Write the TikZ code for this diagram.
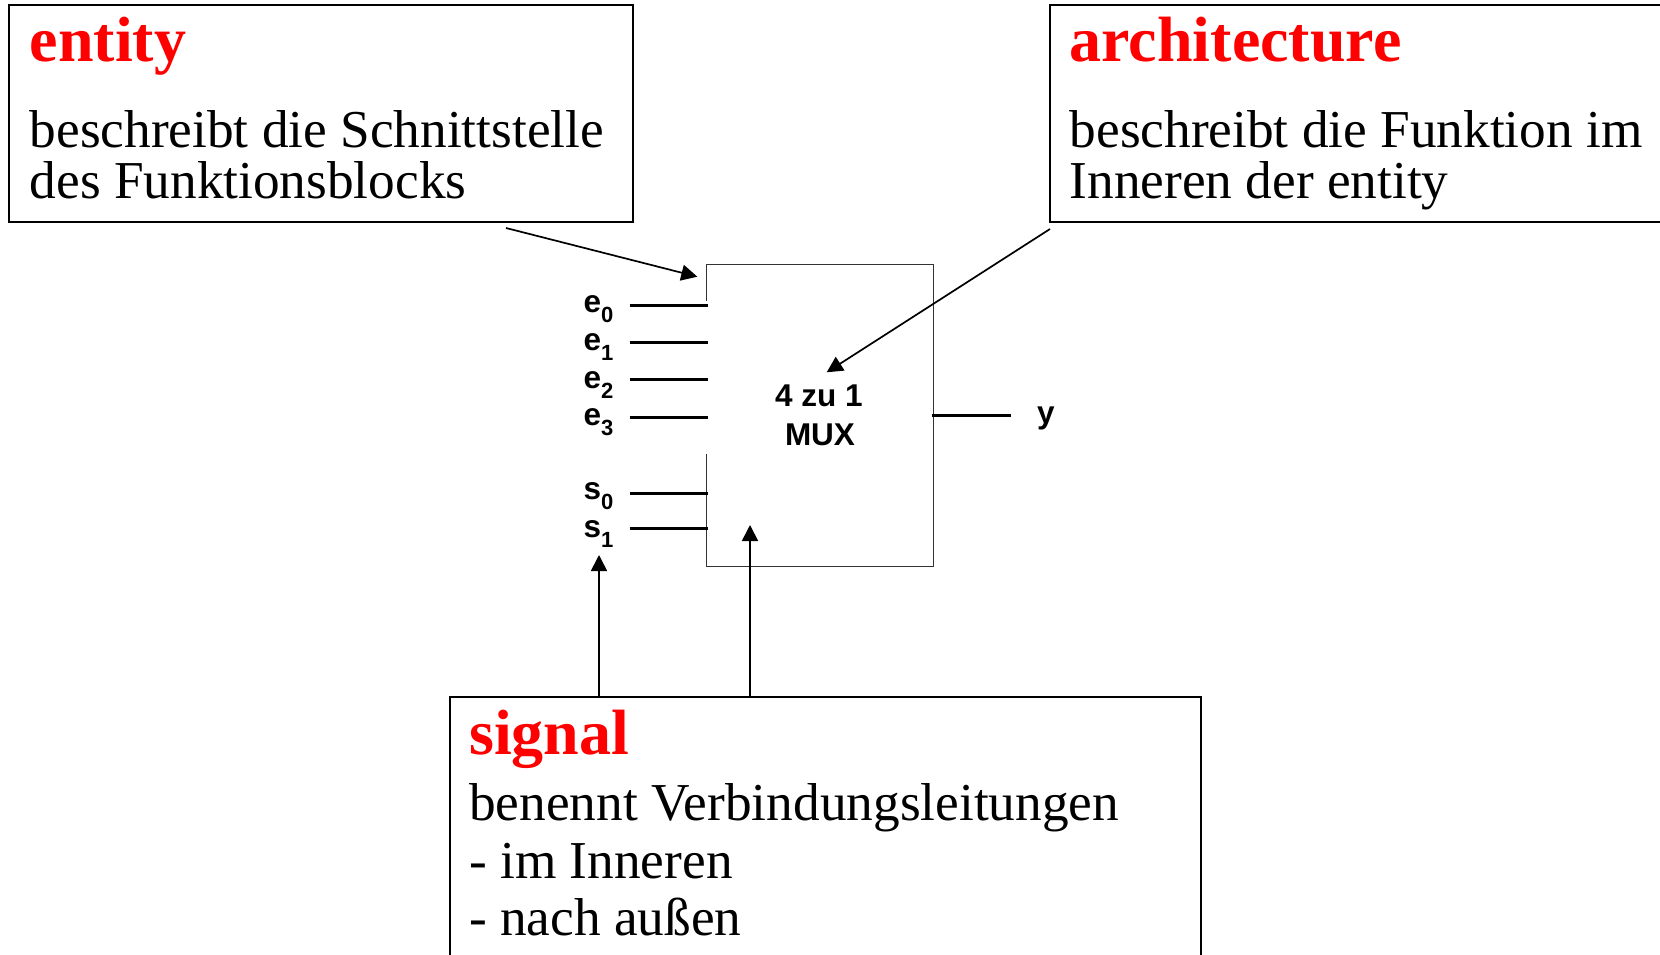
\documentclass[tikz,border=0pt]{standalone}
\usepackage{fontspec}
\setmainfont{Liberation Serif}
\newfontfamily\lblfont{Liberation Sans}[BoldFont={Liberation Sans Bold}]
\usetikzlibrary{arrows.meta}
\definecolor{titlered}{RGB}{255,0,0}
\newcommand{\sig}[2]{#1\raisebox{-10pt}{\fontsize{22}{22}\selectfont #2}}
\tikzset{
  callout/.style={draw=black,line width=2pt,fill=white,anchor=north west,inner sep=0pt},
  titletext/.style={anchor=base west,inner sep=0pt,text=titlered,font=\fontsize{64}{64}\selectfont\bfseries},
  bodytext/.style={anchor=base west,inner sep=0pt,font=\fontsize{53.3}{53.3}\selectfont},
  pinlabel/.style={anchor=base west,inner sep=0pt,font=\lblfont\fontsize{31.5}{31.5}\selectfont\bfseries},
  muxtext/.style={anchor=base,inner sep=0pt,font=\lblfont\fontsize{31.5}{31.5}\selectfont\bfseries},
  muxbox/.style={draw=black!80,line width=1.1pt,fill=white,anchor=north west,inner sep=0pt,minimum width=227pt,minimum height=302pt},
  wire/.style={line width=2.6pt,draw=black},
  pointer/.style={line width=1.7pt,draw=black,-{Triangle[length=16pt,width=16pt]}}
}
\begin{document}
\begin{tikzpicture}[x=1pt,y=-1pt]
\useasboundingbox (0,0) rectangle (1660,955);
\clip (0,0) rectangle (1660,955);
\fill[white] (0,0) rectangle (1660,955);
% callout boxes
\node[callout,minimum width=624pt,minimum height=217pt] (entitybox) at (8.3,4.2) {};
\node[callout,minimum width=640pt,minimum height=217pt] (archbox) at (1048.7,4.2) {};
\node[callout,minimum width=751.5pt,minimum height=300pt] (signalbox) at (448.8,696.2) {};
% callout text
\node[titletext] (t1) at (29.5,62) {entity};
\node[bodytext] (b1a) at (29.5,147.5) {beschreibt die Schnittstelle};
\node[bodytext] (b1b) at (29.5,198.5) {des Funktionsblocks};
\node[titletext] (t2) at (1069.5,62) {architecture};
\node[bodytext] (b2a) at (1069.5,147.5) {beschreibt die Funktion im};
\node[bodytext] (b2b) at (1069.5,198.5) {Inneren der entity};
\node[titletext] (t3) at (469,754) {signal};
\node[bodytext] (b3a) at (469,820) {benennt Verbindungsleitungen};
\node[bodytext] (b3b) at (469,878) {- im Inneren};
\node[bodytext] (b3c) at (469,935.5) {- nach außen};
% multiplexer
\node[muxbox] (mux) at (706.2,264.2) {};
\draw[white,line width=1.6pt] (706.2,301) -- (706.2,454);
\node[muxtext] (m1) at (819,406) {4 zu 1};
\node[muxtext] (m2) at (820,445) {MUX};
% pins
\node[pinlabel] (e0) at (583.5,312) {\sig{e}{0}};
\node[pinlabel] (e1) at (583.5,350) {\sig{e}{1}};
\node[pinlabel] (e2) at (583.5,388) {\sig{e}{2}};
\node[pinlabel] (e3) at (583.5,425) {\sig{e}{3}};
\node[pinlabel] (s0) at (583.5,499) {\sig{s}{0}};
\node[pinlabel] (s1) at (583.5,537) {\sig{s}{1}};
\node[pinlabel] (y) at (1037,423.5) {y};
\coordinate (e0a) at (629.5,305.5); \coordinate (e0b) at (708,305.5);
\coordinate (e1a) at (629.5,342.5); \coordinate (e1b) at (708,342.5);
\coordinate (e2a) at (629.5,379.5); \coordinate (e2b) at (708,379.5);
\coordinate (e3a) at (629.5,417.5); \coordinate (e3b) at (708,417.5);
\coordinate (s0a) at (629.5,493.5); \coordinate (s0b) at (708,493.5);
\coordinate (s1a) at (629.5,528.5); \coordinate (s1b) at (708,528.5);
\coordinate (ya) at (932,415.5);    \coordinate (yb) at (1010.7,415.5);
\draw[wire] (e0a) -- (e0b);
\draw[wire] (e1a) -- (e1b);
\draw[wire] (e2a) -- (e2b);
\draw[wire] (e3a) -- (e3b);
\draw[wire] (s0a) -- (s0b);
\draw[wire] (s1a) -- (s1b);
\draw[wire] (ya) -- (yb);
% pointers
\coordinate (p1a) at (506,228);  \coordinate (p1b) at (697.3,276.7);
\coordinate (p2a) at (1050,229); \coordinate (p2b) at (826.7,372.3);
\coordinate (p3a) at (599,696.7); \coordinate (p3b) at (599,555);
\coordinate (p4a) at (750,696.7); \coordinate (p4b) at (750,525);
\draw[pointer] (p1a) -- (p1b);
\draw[pointer] (p2a) -- (p2b);
\draw[pointer] (p3a) -- (p3b);
\draw[pointer] (p4a) -- (p4b);
\end{tikzpicture}
\end{document}
